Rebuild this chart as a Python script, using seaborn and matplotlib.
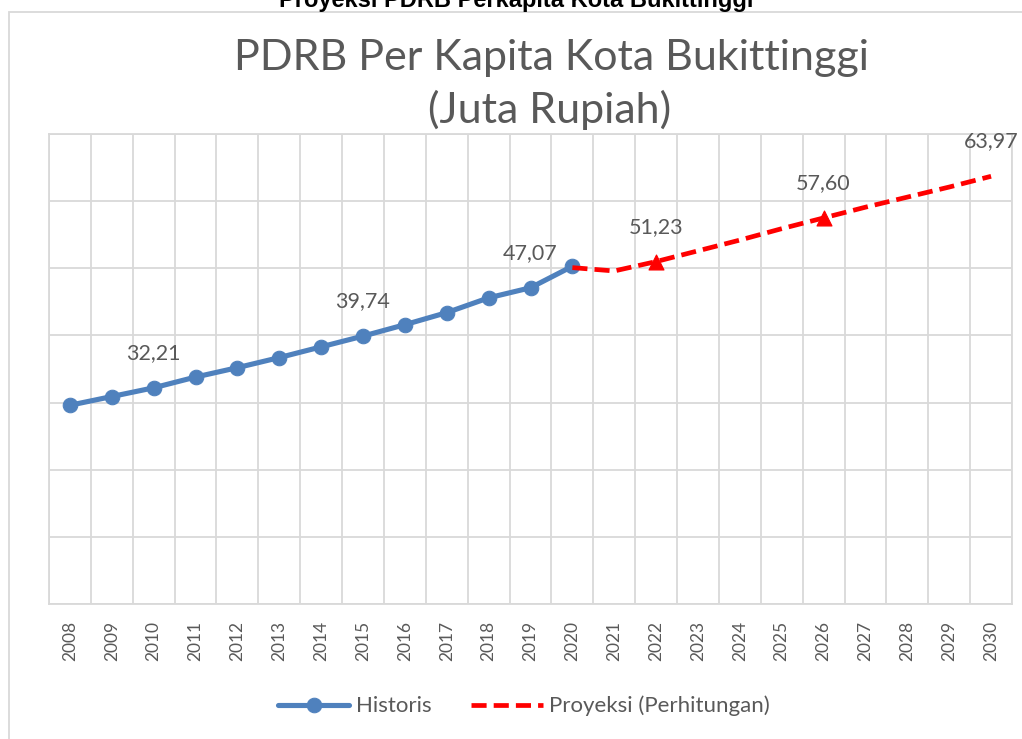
import matplotlib
matplotlib.use("Agg")
import matplotlib.pyplot as plt
import matplotlib.patches as mpatches
import seaborn as sns
import pandas as pd

# data (Juta Rupiah)
tahun_hist = list(range(2008, 2021))
nilai_hist = [29.6, 30.9, 32.2, 33.8, 35.2, 36.7, 38.3, 39.9, 41.6, 43.4, 45.6, 47.1, 50.3]

tahun_proy = list(range(2020, 2031))
nilai_proy = [50.1, 49.6, 51.0, 52.6, 54.2, 55.9, 57.5, 59.1, 60.6, 62.1, 63.7]

# data labels as printed on the chart
label_tahun = [2010, 2015, 2019, 2022, 2026, 2030]
label_teks = ["32,21", "39,74", "47,07", "51,23", "57,60", "63,97"]
marker_tahun = [2022, 2026]

df_hist = pd.DataFrame({"tahun": tahun_hist, "nilai": nilai_hist})
df_proy = pd.DataFrame({"tahun": tahun_proy, "nilai": nilai_proy})
df_mark = df_proy[df_proy["tahun"].isin(marker_tahun)]

sns.set_theme(style="white")
plt.rcParams["font.family"] = ["Lato", "DejaVu Sans"]

abu = "#595959"
grid = "#D9D9D9"
biru = "#4F81BD"
merah = "#FF0000"

W, H = 1022, 739
fig = plt.figure(figsize=(W / 100, H / 100), dpi=100)
ax = fig.add_axes([49 / W, (H - 604) / H, (1012 - 49) / W, (604 - 134) / H])

sns.lineplot(data=df_hist, x="tahun", y="nilai", ax=ax, color=biru, lw=3.7,
             marker="o", markersize=10.5, markeredgecolor=biru, label="Historis")
sns.lineplot(data=df_proy, x="tahun", y="nilai", ax=ax, color=merah, lw=3.4,
             dashes=False, label="Proyeksi (Perhitungan)")
ax.lines[-1].set_linestyle((0, (3.2, 1.5)))
sns.scatterplot(data=df_mark, x="tahun", y="nilai", ax=ax, color=merah,
                marker="^", s=115, edgecolor=merah, legend=False, zorder=5)

semua = dict(zip(tahun_hist, nilai_hist))
semua.update({t: v for t, v in zip(tahun_proy, nilai_proy) if t != 2020})
for t, teks in zip(label_tahun, label_teks):
    ax.annotate(teks, (t, semua[t]), xytext=(0, 25), textcoords="offset points",
                ha="center", va="center", fontsize=15.5, color=abu)

ax.set_xlim(2007.5, 2030.5)
ax.set_ylim(0, 70)
ax.set_xticks(range(2008, 2031))
ax.set_xticklabels([str(t) for t in range(2008, 2031)], rotation=90,
                   fontsize=12.5, color=abu)
ax.set_xticks([t + 0.5 for t in range(2007, 2031)], minor=True)
ax.set_yticks(range(0, 80, 10))
ax.set_yticklabels([])
ax.tick_params(axis="both", which="both", length=0)
ax.tick_params(axis="x", pad=12)
ax.grid(False)
ax.grid(True, axis="x", which="minor", color=grid, lw=1.3)
ax.grid(True, axis="y", which="major", color=grid, lw=1.3)
for s in ax.spines.values():
    s.set_color(grid)
    s.set_linewidth(1.3)
ax.set_xlabel("")
ax.set_ylabel("")

ax.legend_.remove()
h, l = ax.get_legend_handles_labels()
leg = fig.legend(h, l, loc="center", bbox_to_anchor=(524 / W, (H - 706) / H),
                 ncol=2, frameon=False, fontsize=16, handlelength=3.2,
                 columnspacing=1.8, handletextpad=0.3)
for tx in leg.get_texts():
    tx.set_color(abu)

fig.text(552 / W, 1 - 58 / H, "PDRB Per Kapita Kota Bukittinggi", ha="center",
         va="center", fontsize=31, color=abu)
fig.text(550 / W, 1 - 110 / H, "(Juta Rupiah)", ha="center", va="center",
         fontsize=31, color=abu)
fig.text(516 / W, 1 - 7 / H, "Proyeksi PDRB Perkapita Kota Bukittinggi",
         ha="center", va="baseline", fontsize=17, fontweight="bold",
         color="black", family=["Liberation Sans", "DejaVu Sans"])

fig.patches.append(mpatches.Rectangle((9 / W, -0.01), 1.05, 1 - 12 / H + 0.01,
                                      transform=fig.transFigure, fill=False,
                                      edgecolor=grid, lw=1.3))

fig.savefig("out.png", dpi=100)
